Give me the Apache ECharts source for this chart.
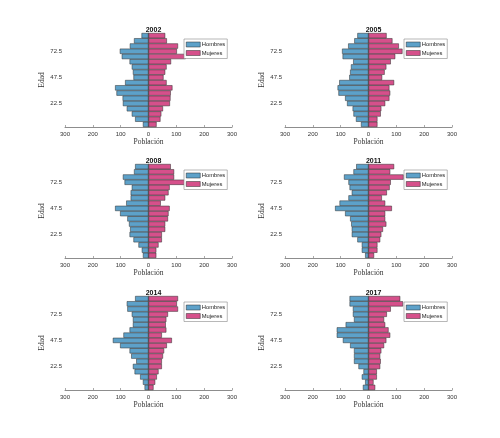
<!DOCTYPE html>
<html>
<head>
<meta charset="utf-8">
<script src="https://cdn.jsdelivr.net/npm/echarts@6/dist/echarts.min.js"></script>
<style>html,body{margin:0;padding:0;background:#fff}#c{width:500px;height:438px}</style>
</head>
<body>
<div id="c"></div>
<script>
// Age groups (bar centres, years), bottom to top
const ages = ['2.5','7.5','12.5','17.5','22.5','27.5','32.5','37.5','42.5','47.5','52.5','57.5','62.5','67.5','72.5','77.5','82.5','87.5'];
const yTickLabels = ['22.5','47.5','72.5'];
const xTicks = [-300,-200,-100,0,100,200,300];
const years = ['2002','2005','2008','2011','2014','2017'];

const hombres2002 = [20,48,60,78,92,93,115,120,84,54,56,60,68,96,103,67,52,25];
const mujeres2002 = [29,43,46,52,77,79,80,86,65,54,60,65,81,134,102,106,66,60];
const hombres2005 = [27,45,54,57,77,84,108,111,105,69,66,63,55,93,95,73,51,40];
const mujeres2005 = [32,32,44,46,60,75,78,75,92,49,58,64,80,96,122,109,86,65];
const hombres2008 = [20,24,36,54,68,66,70,76,102,120,80,64,64,60,86,92,52,48];
const mujeres2008 = [28,28,36,48,48,60,60,70,72,76,44,60,72,76,132,92,92,80];
const hombres2011 = [12,24,24,40,60,60,62,66,84,120,104,72,60,68,72,88,54,44];
const mujeres2011 = [20,32,32,42,46,52,64,60,60,84,60,48,66,76,80,126,78,92];
const hombres2014 = [14,20,30,50,56,44,62,68,102,128,90,68,56,56,60,76,78,48];
const mujeres2014 = [18,24,30,36,48,48,52,56,66,84,48,64,62,64,70,106,102,106];
const hombres2017 = [20,12,24,18,36,52,52,52,66,92,114,114,82,52,56,56,68,68];
const mujeres2017 = [24,18,30,30,42,44,42,46,56,64,78,72,60,56,66,80,124,114];

const hombres = [hombres2002,hombres2005,hombres2008,hombres2011,hombres2014,hombres2017];
const mujeres = [mujeres2002,mujeres2005,mujeres2008,mujeres2011,mujeres2014,mujeres2017];

const BLUE = '#5da1c9';
const PINK = '#d6508b';
const EDGE = '#2b2b2b';
const AXIS = '#707070';
const SANS = 'Liberation Sans, Arial, sans-serif';
const SERIF = 'Liberation Serif, Times New Roman, serif';

const lefts = [65, 285];
const tops = [33, 164, 296];
const W = 167, H = 94;

const grids = [], xAxes = [], yAxes = [], series = [], titles = [], legends = [];
const showIdx = (i) => yTickLabels.indexOf(ages[i]) >= 0;

years.forEach((yr, k) => {
  const col = k % 2, row = Math.floor(k / 2);
  const gl = lefts[col], gt = tops[row];
  grids.push({left: gl, top: gt, width: W, height: H, containLabel: false});
  xAxes.push({
    type: 'value', gridIndex: k, min: xTicks[0], max: xTicks[xTicks.length-1], interval: 100,
    name: 'Población', nameLocation: 'middle', nameGap: 11,
    nameTextStyle: {fontFamily: SERIF, fontSize: 7.5, color: '#333'},
    axisLine: {show: true, onZero: false, lineStyle: {color: AXIS, width: 0.8}},
    axisTick: {show: true, inside: true, length: 2, lineStyle: {color: AXIS, width: 0.6}},
    axisLabel: {fontFamily: SANS, fontSize: 6, color: '#333', margin: 4, formatter: v => Math.abs(v)},
    splitLine: {show: false}
  });
  yAxes.push({
    type: 'category', gridIndex: k, data: ages, boundaryGap: true,
    name: 'Edad', nameLocation: 'middle', nameGap: 18, nameRotate: 90,
    nameTextStyle: {fontFamily: SERIF, fontSize: 7.5, color: '#333'},
    axisLine: {show: true, lineStyle: {color: AXIS, width: 0.8}},
    axisTick: {show: true, inside: true, length: 2, alignWithLabel: true, interval: (i) => showIdx(i), lineStyle: {color: AXIS, width: 0.6}},
    axisLabel: {fontFamily: SANS, fontSize: 6, color: '#333', margin: 3, interval: (i) => showIdx(i)},
    splitLine: {show: false}
  });
  titles.push({
    text: yr, left: gl + W / 2, top: gt - 11, textAlign: 'center',
    textStyle: {fontFamily: SANS, fontSize: 7, fontWeight: 'bold', color: '#111'}
  });
  legends.push({
    left: gl + 119, top: gt + 6, orient: 'vertical',
    data: [{name: 'Hombres'}, {name: 'Mujeres'}],
    seriesIndex: [2*k, 2*k+1],
    icon: 'rect', itemWidth: 14, itemHeight: 5, itemGap: 2.5,
    padding: [2.5, 2, 2.5, 2],
    borderColor: '#888', borderWidth: 0.6, backgroundColor: '#fff',
    itemStyle: {borderWidth: 0.5, borderColor: EDGE},
    textStyle: {fontFamily: SANS, fontSize: 5.8, color: '#222', padding: [0,0,0,-3.5]},
    selectedMode: false
  });
  series.push({
    name: 'Hombres', type: 'bar', xAxisIndex: k, yAxisIndex: k,
    data: hombres[k].map(v => -v), barWidth: '100%', barGap: '-100%',
    itemStyle: {color: BLUE, borderColor: EDGE, borderWidth: 0.5},
    silent: true, animation: false
  });
  series.push({
    name: 'Mujeres', type: 'bar', xAxisIndex: k, yAxisIndex: k,
    data: mujeres[k], barWidth: '100%', barGap: '-100%',
    itemStyle: {color: PINK, borderColor: EDGE, borderWidth: 0.5},
    silent: true, animation: false
  });
});

const chart = echarts.init(document.getElementById('c'), null, {renderer: 'canvas'});
chart.setOption({
  animation: false,
  backgroundColor: '#fff',
  title: titles, grid: grids, xAxis: xAxes, yAxis: yAxes, legend: legends, series: series
});
</script>
</body>
</html>
